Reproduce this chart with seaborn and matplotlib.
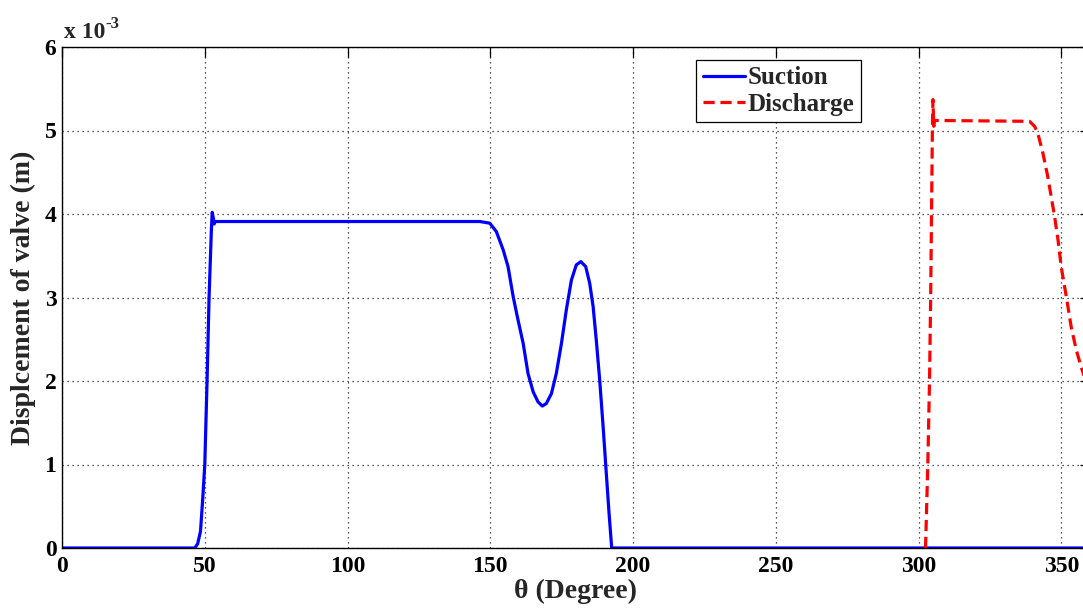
import numpy as np
import pandas as pd
import seaborn as sns
import matplotlib.pyplot as plt

# ---- data (theta in degrees, displacement in mm) ----
suction_theta = [0, 46.5, 47.5, 48.5, 49.3, 50.0, 50.8, 51.5, 52.3, 52.6, 53.0, 53.3, 53.6,
                 146.3, 149.8, 152.1, 154.5, 156.2, 158.0, 159.7, 161.5, 163.2, 165.0,
                 166.7, 168.2, 169.6, 171.4, 173.1, 174.9, 176.6, 178.4, 180.1, 181.7,
                 183.4, 184.8, 186.0, 187.1, 188.3, 189.5, 190.5, 191.5, 192.5, 360.0]
suction_disp_mm = [0, 0, 0.05, 0.2, 0.6, 1.0, 2.0, 3.0, 3.8, 4.02, 3.95, 3.88, 3.91,
                   3.91, 3.89, 3.79, 3.57, 3.37, 3.01, 2.73, 2.45, 2.09, 1.87,
                   1.75, 1.70, 1.73, 1.85, 2.09, 2.45, 2.85, 3.21, 3.39, 3.43,
                   3.37, 3.17, 2.89, 2.49, 2.01, 1.45, 0.95, 0.45, 0.0, 0.0]

discharge_theta = [302.4, 303.2, 303.8, 304.2, 304.5, 304.8, 305.0, 305.3, 305.6,
                   338.8, 340.6, 341.7, 343.5, 345.2, 346.4, 347.6, 348.8, 349.9,
                   351.7, 353.4, 355.2, 356.9, 358.5, 360.0]
discharge_disp_mm = [0.0, 1.0, 2.0, 3.0, 4.0, 5.0, 5.37, 5.05, 5.12,
                     5.11, 5.05, 4.97, 4.73, 4.45, 4.21, 3.97, 3.69, 3.37,
                     3.01, 2.65, 2.37, 2.17, 2.0, 1.85]

x_ticks = [0, 50, 100, 150, 200, 250, 300, 350]
y_ticks_mm = [0, 1, 2, 3, 4, 5, 6]

series_names = ["Suction", "Discharge"]

df = pd.concat([
    pd.DataFrame({"theta": suction_theta,
                  "disp": np.array(suction_disp_mm) * 1e-3,
                  "series": series_names[0]}),
    pd.DataFrame({"theta": discharge_theta,
                  "disp": np.array(discharge_disp_mm) * 1e-3,
                  "series": series_names[1]}),
], ignore_index=True)

sns.set_style("white")
plt.rcParams["font.family"] = ["Liberation Serif", "DejaVu Serif"]
plt.rcParams["font.weight"] = "bold"

fig = plt.figure(figsize=(10.83, 6.12), dpi=100)
ax = fig.add_axes([62 / 1083, 64 / 612, 1028 / 1083, 501 / 612])

sns.lineplot(data=df, x="theta", y="disp", hue="series", style="series",
             palette={"Suction": "#0000ff", "Discharge": "#ff0000"},
             dashes={"Suction": "", "Discharge": (3.5, 1.8)},
             linewidth=2.3, sort=False, estimator=None, ax=ax)
for ln in ax.get_lines():
    ln.set_solid_joinstyle("round")
    ln.set_dash_joinstyle("round")

ax.set_xlim(0, 360)
ax.set_ylim(0, 6e-3)
ax.set_xticks(x_ticks)
ax.set_yticks(np.array(y_ticks_mm) * 1e-3)
ax.set_xticklabels([str(v) for v in x_ticks])
ax.set_yticklabels([str(v) for v in y_ticks_mm])

ax.grid(True, color="#222222", linestyle=(0, (1, 3)), linewidth=0.9)
ax.tick_params(direction="in", top=True, right=True, length=7, width=0.9,
               labelsize=17, colors="black")
ax.tick_params(axis="x", pad=6)
ax.tick_params(axis="y", pad=4)
for lab in ax.get_xticklabels() + ax.get_yticklabels():
    lab.set_fontweight("bold")
for s in ax.spines.values():
    s.set_color("black")
    s.set_linewidth(1.0)

ax.set_xlabel("θ (Degree)", fontsize=20, fontweight="bold", labelpad=1)
ax.set_ylabel("Displcement of valve (m)", fontsize=20, fontweight="bold", labelpad=6)

base = ax.text(0.002, 1.008, "x 10", transform=ax.transAxes,
               fontsize=17, fontweight="bold", ha="left", va="bottom")
ax.annotate("-3", xy=(1, 1), xycoords=base, xytext=(0, -7), textcoords="offset points",
            fontsize=12, fontweight="bold", ha="left", va="bottom")

handles, labels = ax.get_legend_handles_labels()
ax.get_legend().remove()
leg = ax.legend(handles, labels, loc="upper left", bbox_to_anchor=(0.617, 0.974),
                borderaxespad=0, frameon=True, fancybox=False, framealpha=1,
                edgecolor="black", fontsize=18, handlelength=1.7, handletextpad=0.1,
                borderpad=0.25, labelspacing=0.15)
for t in leg.get_texts():
    t.set_fontweight("bold")
leg.get_frame().set_linewidth(0.9)

fig.savefig("out.png", dpi=100)
